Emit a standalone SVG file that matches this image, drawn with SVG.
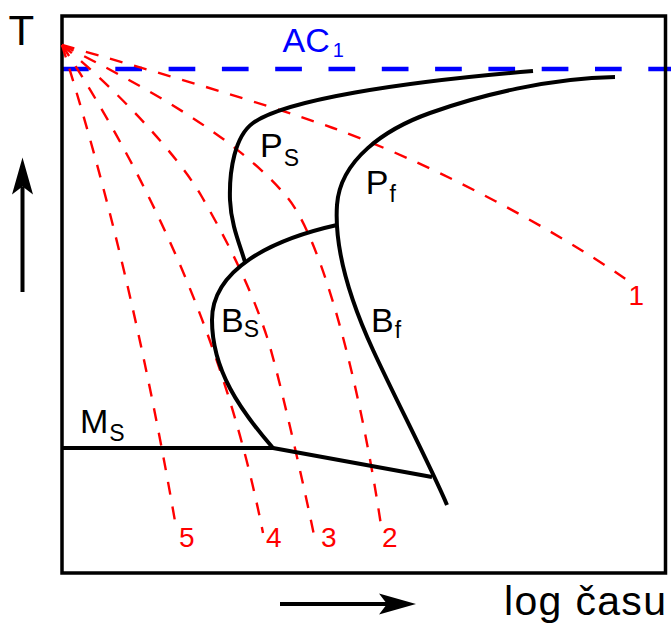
<svg xmlns="http://www.w3.org/2000/svg" width="671" height="625" viewBox="0 0 671 625">
<defs>
<marker id="arr" markerUnits="userSpaceOnUse" markerWidth="40" markerHeight="24" refX="8" refY="10.5" orient="auto" overflow="visible"><path d="M0,0 L37,10.5 L0,21 L8,10.5 Z" fill="#000"/></marker>
<style>
.lbl{font-family:"Liberation Sans",Arial,sans-serif;font-size:34px;fill:#000}
.sub{font-size:23px}
.num{font-family:"Liberation Sans",Arial,sans-serif;font-size:28px;fill:#f00}
.curve{fill:none;stroke:#000;stroke-width:4;stroke-linejoin:round}
.cool{fill:none;stroke:#f00;stroke-width:2.4;stroke-dasharray:13 12}
</style>
</defs>
<rect width="671" height="625" fill="#fff"/>
<g id="ac1-line"><line x1="62" y1="69" x2="671" y2="69" stroke="#00f" stroke-width="4.5" stroke-dasharray="26.7 26.6"/></g>
<g id="frame"><rect x="62" y="16" width="603.5" height="557" fill="none" stroke="#000" stroke-width="3.5"/></g>
<g id="axes" stroke="#000" stroke-width="4">
<line x1="22.5" y1="292" x2="22.5" y2="186.5" marker-end="url(#arr)"/>
<line x1="280" y1="604" x2="387" y2="604" marker-end="url(#arr)"/>
</g>
<g id="cooling-curves" class="cool">
<path d="M62,45 C150,70 260,102 333,128 C420,159 540,220 627,280"/>
<path d="M62,45 C142,85 237,137 287,197 C322,239 360,382 382,532"/>
<path d="M62,45 C115,88 178,155 202,197 C225,237 250,285 267,337 C279,374 307,500 315,540"/>
<path d="M62,45 Q212,275 263,533"/>
<path d="M62,45 Q130,260 176,527"/>
</g>
<g id="transformation-curves" class="curve">
<path id="ps" d="M533,71 C400,82 285,100 253,123 C235,136 229,170 230,200 C231,225 240,245 245,262"/>
<path id="bs" d="M337,225 C270,240 212,270 212,320 C212,370 240,410 273,448"/>
<path id="ms" d="M62,448 L273,448 L432,477"/>
<path id="pf-bf" d="M615,77 C550,78 480,95 430,113 C385,129 340,160 337,205 C334,250 350,300 373,350 C396,400 430,465 447,505"/>
</g>
<g id="labels">
<text class="lbl" x="8.5" y="45" style="font-size:42px">T</text>
<text class="lbl" x="282.5" y="51.7" style="fill:#00f">AC<tspan style="font-size:20px" dx="3" dy="5">1</tspan></text>
<text class="lbl" x="260" y="157.3">P<tspan class="sub" dx="1" dy="9">S</tspan></text>
<text class="lbl" x="365.8" y="194.3">P<tspan class="sub" dx="1" dy="7.7">f</tspan></text>
<text class="lbl" x="221" y="331.5">B<tspan class="sub" dx="0" dy="5.5">S</tspan></text>
<text class="lbl" x="371" y="331.7">B<tspan class="sub" dx="1" dy="6.6">f</tspan></text>
<text class="lbl" x="80" y="433.3">M<tspan class="sub" dx="1" dy="7.7">S</tspan></text>
<text class="lbl" x="504" y="615" style="font-size:41px" textLength="162" lengthAdjust="spacing">log času</text>
</g>
<g id="curve-numbers" class="num">
<text x="628.5" y="305">1</text>
<text x="382" y="547">2</text>
<text x="321" y="547">3</text>
<text x="266" y="547">4</text>
<text x="179" y="547">5</text>
</g>
</svg>
